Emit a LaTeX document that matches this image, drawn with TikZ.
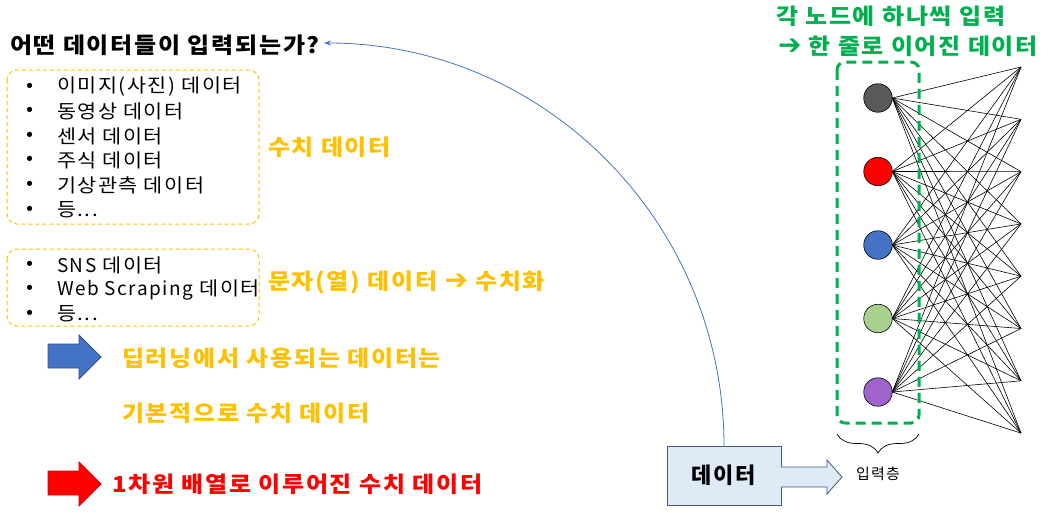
\documentclass[tikz,border=0pt]{standalone}
\usepackage{fontspec}
\setmainfont{Noto Sans CJK KR}[LetterSpace=8,FakeStretch=1.09]
\newfontfamily\latfont{Noto Sans CJK KR}[LetterSpace=8]
\newfontfamily\djv{DejaVu Sans}
\newcommand{\bigarr}{{\djv\bfseries\fontsize{28}{28}\selectfont ➔}}
\usetikzlibrary{decorations.pathreplacing,arrows.meta}
\definecolor{orng}{RGB}{255,192,0}
\definecolor{grn}{RGB}{0,176,80}
\definecolor{bluA}{RGB}{68,114,196}
\definecolor{bluB}{RGB}{47,82,143}
\definecolor{dgray}{RGB}{89,89,89}
\definecolor{lgrn}{RGB}{169,209,142}
\definecolor{purp}{RGB}{160,100,204}
\definecolor{lblue}{RGB}{222,235,247}
\definecolor{dboxb}{RGB}{65,90,120}
\begin{document}
\begin{tikzpicture}[x=1pt,y=-1pt,
  every node/.style={inner sep=0pt,outer sep=0pt},
  bigtxt/.style={font=\fontsize{22}{26}\selectfont\bfseries,anchor=west},
  listtxt/.style={font=\fontsize{19}{23}\selectfont,anchor=west},
  bul/.style={font=\fontsize{19}{23}\selectfont},
  obox/.style={draw=orng,line width=1pt,dash pattern=on 4pt off 3pt,rounded corners=10pt},
  neuron/.style={circle,draw=black,line width=0.6pt,minimum size=28.5pt},
  conn/.style={line width=0.6pt,black},
  blockarr/.style={line width=0.8pt,line join=miter}]
\useasboundingbox (0,0) rectangle (1054,512);
% title
\node[bigtxt] (q) at (10,45) {어떤 데이터들이 입력되는가?};
% list 1
\draw[obox] (7,70) rectangle (259,224);
\foreach \i in {0,...,5}{ \node[bul] (b1-\i) at (30,87+24.6*\i) {•}; }
\node[listtxt] (t1-0) at (57,87) {이미지(사진) 데이터};
\node[listtxt] (t1-1) at (57,111.6) {동영상 데이터};
\node[listtxt] (t1-2) at (57,136.2) {센서 데이터};
\node[listtxt] (t1-3) at (57,160.8) {주식 데이터};
\node[listtxt] (t1-4) at (57,185.4) {기상관측 데이터};
\node[listtxt] (t1-5) at (57,210) {등...};
\node[bigtxt,text=orng] (num) at (268,147) {수치 데이터};
% list 2
\draw[obox] (7,249) rectangle (259,326);
\foreach \i in {0,1,2}{ \node[bul] (b2-\i) at (30,265+24.6*\i) {•}; }
\node[listtxt] (t2-0) at (57,265) {{\latfont SNS} 데이터};
\node[listtxt] (t2-1) at (57,289.6) {{\latfont Web Scraping} 데이터};
\node[listtxt] (t2-2) at (57,314.2) {등...};
\node[bigtxt,text=orng] (str) at (268,282) {문자(열) 데이터 \bigarr{} 수치화};
% arrows
\draw[blockarr,fill=bluA,draw=bluB] (48,344) -- (79,344) -- (79,335) -- (101,357) -- (79,379) -- (79,368) -- (48,368) -- cycle;
\node[bigtxt,text=orng] (dl1) at (122,358) {딥러닝에서 사용되는 데이터는};
\node[bigtxt,text=orng] (dl2) at (122,413) {기본적으로 수치 데이터};
\draw[blockarr,fill=red,draw=red!80!black] (48,471) -- (79,471) -- (79,462) -- (101,484) -- (79,506) -- (79,495) -- (48,495) -- cycle;
\node[bigtxt,text=red] (one) at (112,484) {1차원 배열로 이루어진 수치 데이터};
% data box
\node[draw=dboxb,fill=lblue,line width=0.8pt,minimum width=114pt,minimum height=59pt,font=\latfont\fontsize{22}{26}\selectfont\bfseries] (data) at (724,475.5) {데이터};
\draw[blockarr,fill=lblue,draw=dboxb] (781,467) -- (827,467) -- (827,460) -- (842,477) -- (827,494) -- (827,487) -- (781,487);
% curve
\coordinate (qend) at (324,43);
\draw[bluA,line width=0.8pt,-{Stealth[length=7pt,width=5pt]}] (data.north) .. controls (724,223) and (545,43) .. (qend);
% network
\foreach \j in {1,...,8}{ \coordinate (o\j) at (1021,67+52.3*\j-52.3); }
\foreach \c [count=\i] in {dgray,red,bluA,lgrn,purp}{
  \node[neuron,fill=\c] (n\i) at (878,98+73.5*\i-73.5) {};
}
\foreach \i in {1,...,5}{ \foreach \j in {1,...,8}{ \draw[conn] (n\i.east) -- (o\j); } }
\draw[grn,line width=3pt,dash pattern=on 10pt off 6pt,rounded corners=8pt] (837,62) rectangle (919,423);
\draw[line width=0.7pt,decorate,decoration={brace,mirror,amplitude=19pt}] (837,434) -- (919,434);
\node[font=\latfont\fontsize{15}{17}\selectfont] (lay) at (878,474) {입력층};
\node[bigtxt,text=grn] (g1) at (776,16) {각 노드에 하나씩 입력};
\node[bigtxt,text=grn] (g2) at (778,46) {\bigarr{} 한 줄로 이어진 데이터};
\end{tikzpicture}
\end{document}
